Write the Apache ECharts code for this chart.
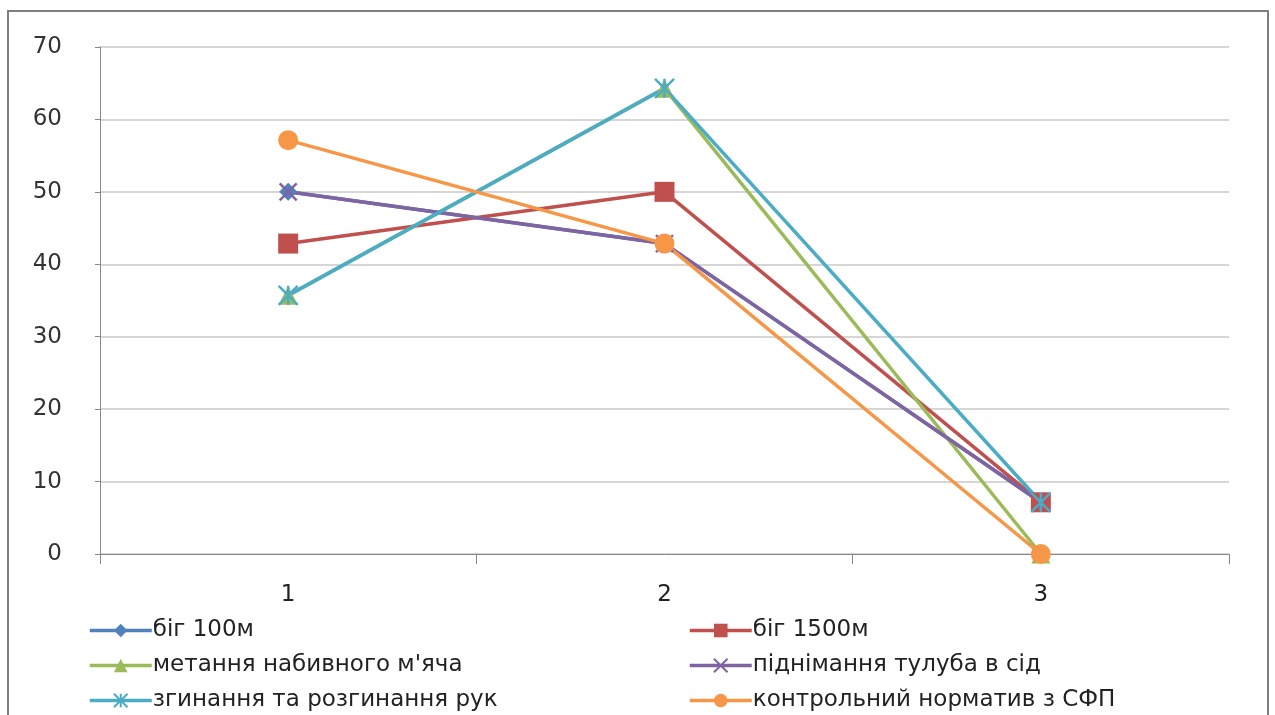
<!DOCTYPE html>
<html><head><meta charset="utf-8">
<script src="https://cdn.jsdelivr.net/npm/echarts@6/dist/echarts.min.js"></script>
<style>html,body{margin:0;padding:0;background:#fff}#c{width:1275px;height:715px}</style>
</head><body><div id="c"></div>
<script>
const categories = ['1', '2', '3'];
const yTicks = [0, 10, 20, 30, 40, 50, 60, 70];
const seriesNames = ['біг 100м', 'біг 1500м', 'метання набивного м\'яча', 'піднімання тулуба в сід', 'згинання та розгинання рук', 'контрольний норматив з СФП'];
const run100 = [50, 42.86, 7.14];
const run1500 = [42.86, 50, 7.14];
const ballThrow = [35.71, 64.29, 0];
const situps = [50, 42.86, 7.14];
const pushups = [35.71, 64.29, 7.14];
const control = [57.14, 42.86, 0];

const values = [run100, run1500, ballThrow, situps, pushups, control];
const colors = ['#4F81BD', '#C0504D', '#9BBB59', '#8064A2', '#4BACC6', '#F79646'];
const symbols = ['diamond', 'rect', 'triangle', 'path://M0,0 L10,10 M10,0 L0,10',
  'path://M0,0 L10,10 M10,0 L0,10 M5,0 L5,10', 'circle'];
const symSizes = [18, 20, 19, 17, 19, 20];
const FONT = 'DejaVu Sans';

const chart = echarts.init(document.getElementById('c'));
const series = seriesNames.map((n, i) => {
  const stroke = symbols[i].startsWith('path');
  return {
    name: n, type: 'line', data: values[i],
    symbol: symbols[i], symbolSize: symSizes[i],
    lineStyle: { color: colors[i], width: 3.5 },
    itemStyle: stroke ? { color: colors[i], borderColor: colors[i], borderWidth: 2.5 } : { color: colors[i] },
    emphasis: { disabled: true },
    animation: false
  };
});
function legendAt(left, names) {
  return {
    orient: 'vertical', left: left, top: 619, height: 120, itemGap: 12, itemWidth: 62, itemHeight: 17,
    padding: 0,
    data: names,
    lineStyle: { width: 3.5 },
    textStyle: { fontFamily: FONT, fontSize: 23, lineHeight: 23, color: '#222', padding: [0, 0, 0, -4] }
  };
}
chart.setOption({
  animation: false,
  grid: { left: 100, right: 46, top: 47, bottom: 161 },
  graphic: [{ type: 'rect', shape: { x: 8, y: 11, width: 1260, height: 720 }, style: { fill: 'none', stroke: '#7f7f7f', lineWidth: 2 } }],
  legend: [
    legendAt(88, [seriesNames[0], seriesNames[2], seriesNames[4]]),
    legendAt(688, [seriesNames[1], seriesNames[3], seriesNames[5]])
  ],
  xAxis: {
    type: 'category', data: categories, boundaryGap: true,
    axisLine: { lineStyle: { color: '#888', width: 1 } },
    axisTick: { show: true, length: 10, interval: 0, lineStyle: { color: '#888' } },
    axisLabel: { margin: 30, fontFamily: FONT, fontSize: 23, color: '#222' }
  },
  yAxis: {
    type: 'value', min: 0, max: 70, interval: 10,
    axisLine: { show: true, lineStyle: { color: '#888' } },
    axisTick: { show: true, length: 5, lineStyle: { color: '#888' } },
    axisLabel: { margin: 38, fontFamily: FONT, fontSize: 23, color: '#333',
      formatter: v => yTicks.includes(v) ? String(v) : '' },
    splitLine: { lineStyle: { color: '#c8c8c8', width: 1.5 } }
  },
  series: series
});
</script></body></html>
